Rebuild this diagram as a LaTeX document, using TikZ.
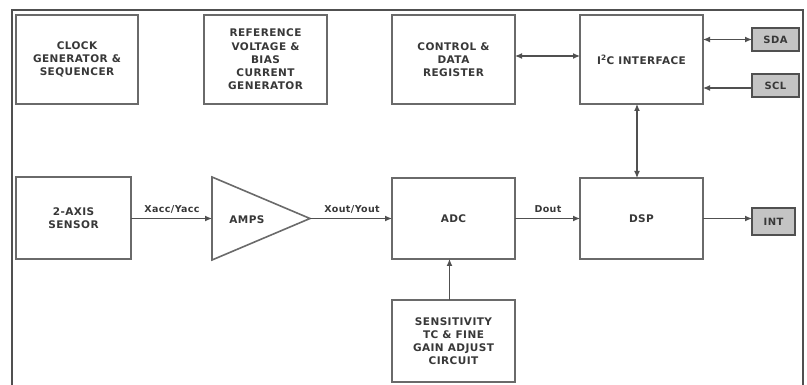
\documentclass[tikz,border=0pt]{standalone}
\usepackage{fontspec}
\setmainfont{DejaVu Sans}[LetterSpace=4]
\usetikzlibrary{arrows.meta}
\definecolor{txt}{HTML}{383838}
\definecolor{edge}{HTML}{6A6A6A}
\definecolor{frm}{HTML}{505050}
\definecolor{pinfill}{HTML}{C4C4C4}
\tikzset{
  blk/.style={draw=edge, line width=1.6pt, fill=white, inner sep=0pt, outer sep=0pt,
    align=center, text=txt, font=\fontsize{10.5}{13.2}\selectfont\bfseries},
  pin/.style={draw=frm, line width=1.8pt, fill=pinfill, inner sep=0pt, outer sep=0pt,
    text=txt, font=\fontsize{10}{13}\selectfont\bfseries},
  conn/.style={draw=frm, line width=1.2pt, -{Latex[length=7pt,width=6pt]}},
  bconn/.style={draw=frm, line width=1.2pt, {Latex[length=7pt,width=6pt]}-{Latex[length=7pt,width=6pt]}},
  lbl/.style={text=txt, font=\fontsize{9.5}{11}\selectfont\bfseries, inner sep=0pt}
}
\begin{document}
\begin{tikzpicture}[x=1pt,y=-1pt]
\useasboundingbox (0,0) rectangle (807,385);
% frame
\draw[frm, line width=2pt] (12,385) -- (12,10) -- (803,10) -- (803,385);
% top row
\node[blk, minimum width=122pt, minimum height=89pt] (clock) at (77,59.5) {CLOCK\\GENERATOR \&\\SEQUENCER};
\node[blk, minimum width=123pt, minimum height=89pt] (ref) at (265.5,59.5) {REFERENCE\\VOLTAGE \&\\BIAS\\CURRENT\\GENERATOR};
\node[blk, minimum width=123pt, minimum height=89pt] (ctrl) at (453.5,59.5) {CONTROL \&\\DATA\\REGISTER};
\node[blk, minimum width=123pt, minimum height=89pt] (i2c) at (641.5,59.5) {I\textsuperscript{2}C INTERFACE};
\node[pin, minimum width=47pt, minimum height=23pt] (sda) at (775.5,39.5) {SDA};
\node[pin, minimum width=47pt, minimum height=23pt] (scl) at (775.5,85.5) {SCL};
% middle row
\node[blk, minimum width=115pt, minimum height=82pt] (sensor) at (73.5,218) {2-AXIS\\SENSOR};
\coordinate (ampin) at (212,218.5);
\coordinate (ampout) at (310,218.5);
\draw[edge, line width=1.6pt, fill=white] (212,177) -- (ampout) -- (212,260) -- cycle;
\node[lbl, font=\fontsize{10.5}{13}\selectfont\bfseries] (amps) at (247,220) {AMPS};
\node[blk, minimum width=123pt, minimum height=81pt] (adc) at (453.5,218.5) {ADC};
\node[blk, minimum width=123pt, minimum height=81pt] (dsp) at (641.5,218.5) {DSP};
\node[pin, minimum width=43pt, minimum height=27pt] (int) at (773.5,221.5) {INT};
\node[blk, minimum width=123pt, minimum height=82pt] (sens) at (453.5,341) {SENSITIVITY\\TC \& FINE\\GAIN ADJUST\\CIRCUIT};
% connectors
\draw[bconn] ([yshift=3.5pt]ctrl.east) -- ([yshift=3.5pt]i2c.west);
\draw[bconn] (i2c.east |- sda.west) -- (sda.west);
\draw[conn] ([yshift=-2.5pt]scl.west) -- ([yshift=-2.5pt]scl.west -| i2c.east);
\draw[bconn] ([xshift=-4.5pt]i2c.south) -- ([xshift=-4.5pt]dsp.north);
\draw[conn] (sensor.east |- ampin) -- (ampin);
\draw[conn] (ampout) -- (ampout -| adc.west);
\draw[conn] (adc.east) -- (dsp.west);
\draw[conn] (dsp.east) -- (dsp.east -| int.west);
\draw[conn] ([xshift=-4pt]sens.north) -- ([xshift=-4pt]adc.south);
% labels
\node[lbl, anchor=base] (lxacc) at (172,213) {Xacc/Yacc};
\node[lbl, anchor=base] (lxout) at (352,213) {Xout/Yout};
\node[lbl, anchor=base] (ldout) at (548,213) {Dout};
\end{tikzpicture}
\end{document}
